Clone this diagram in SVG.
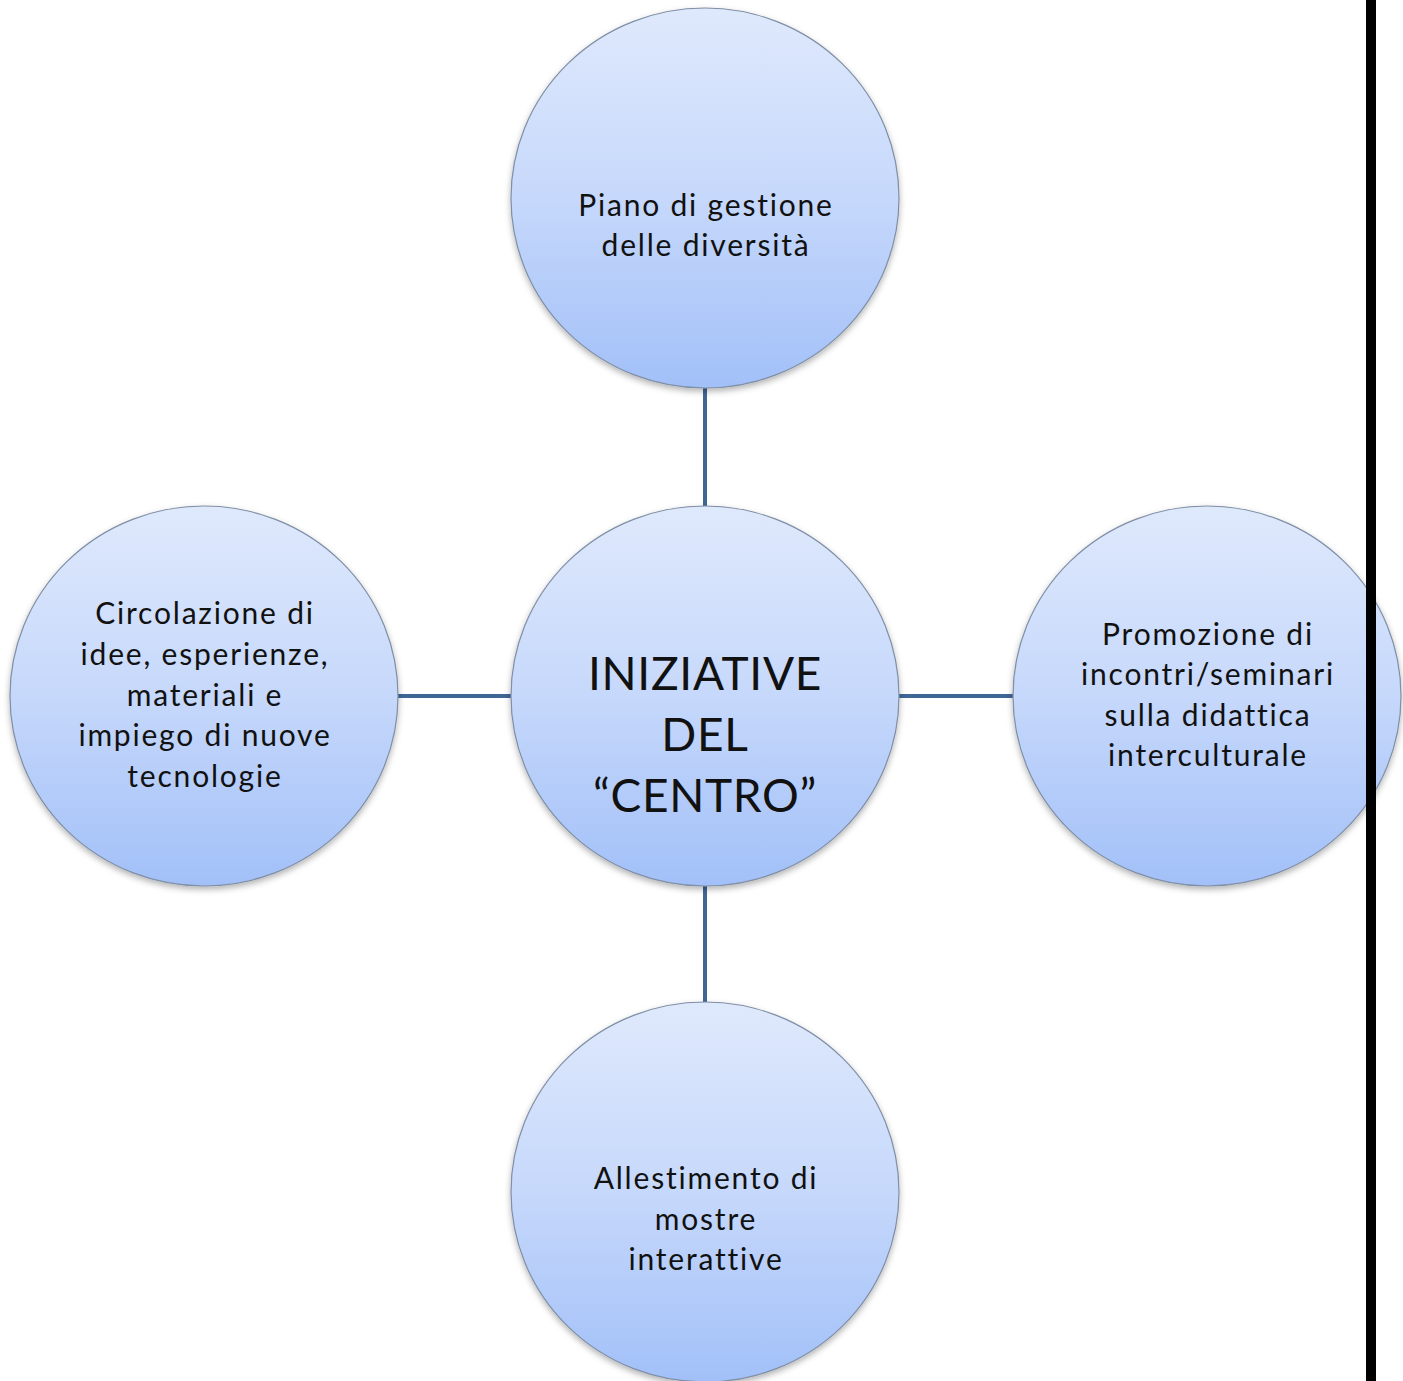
<svg xmlns="http://www.w3.org/2000/svg" width="1403" height="1381" viewBox="0 0 1403 1381">
<defs>
<linearGradient id="g" x1="0" y1="0" x2="0" y2="1">
<stop offset="0" stop-color="#dfe9fc"/>
<stop offset="0.5" stop-color="#c6d8fb"/>
<stop offset="1" stop-color="#a2c0f8"/>
</linearGradient>
<filter id="sh" x="-10%" y="-10%" width="120%" height="125%">
<feDropShadow dx="0" dy="3" stdDeviation="3" flood-color="#000" flood-opacity="0.3"/>
</filter>
</defs>
<style>
.n{fill:url(#g);stroke:#7f8fa6;stroke-width:1.2;filter:url(#sh)}
.t{font-family:Lato,"Open Sans","Liberation Sans",sans-serif;font-size:30px;fill:#111;text-anchor:middle;letter-spacing:1.8px;font-variant-ligatures:none}
.c{font-size:46px;letter-spacing:0.7px}
.e{stroke:#3f6796;stroke-width:4;fill:none}
</style>
<rect width="1403" height="1381" fill="#fff"/>
<g id="connectors">
<line class="e" x1="705" y1="388" x2="705" y2="506"/>
<line class="e" x1="705" y1="886" x2="705" y2="1002"/>
<line class="e" x1="397" y1="696" x2="511" y2="696"/>
<line class="e" x1="898" y1="696" x2="1013" y2="696"/>
</g>
<g id="top">
<ellipse class="n" cx="705" cy="198" rx="194" ry="190"/>
<text class="t" x="706" y="216">Piano di gestione</text>
<text class="t" x="706" y="256">delle diversità</text>
</g>
<g id="left">
<ellipse class="n" cx="204" cy="696" rx="194" ry="190"/>
<text class="t" x="205" y="624">Circolazione di</text>
<text class="t" x="205" y="665">idee, esperienze,</text>
<text class="t" x="205" y="706">materiali e</text>
<text class="t" x="205" y="746">impiego di nuove</text>
<text class="t" x="205" y="787">tecnologie</text>
</g>
<g id="right">
<ellipse class="n" cx="1207" cy="696" rx="194" ry="190"/>
<text class="t" x="1208" y="645">Promozione di</text>
<text class="t" x="1208" y="685">incontri/seminari</text>
<text class="t" x="1208" y="726">sulla didattica</text>
<text class="t" x="1208" y="766">interculturale</text>
</g>
<g id="bottom">
<ellipse class="n" cx="705" cy="1192" rx="194" ry="190"/>
<text class="t" x="706" y="1189">Allestimento di</text>
<text class="t" x="706" y="1230">mostre</text>
<text class="t" x="706" y="1270">interattive</text>
</g>
<g id="center">
<ellipse class="n" cx="705" cy="696" rx="194" ry="190"/>
<text class="t c" x="705" y="690">INIZIATIVE</text>
<text class="t c" x="705" y="751">DEL</text>
<text class="t c" x="705" y="812">“CENTRO”</text>
</g>
<rect x="1366" y="0" width="10" height="1381" fill="#000"/>
</svg>
